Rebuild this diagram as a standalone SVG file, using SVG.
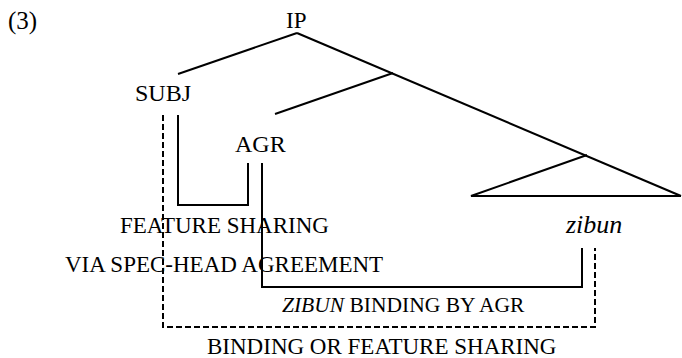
<svg xmlns="http://www.w3.org/2000/svg" width="682" height="358" viewBox="0 0 682 358">
<style>
text{font-family:"Liberation Serif","Times New Roman",serif;fill:#000}
.t{font-size:23px}
.s{font-size:21.5px}
.i{font-style:italic}
.ln{stroke:#000;stroke-width:2;fill:none}
.ds{stroke:#000;stroke-width:2;fill:none;stroke-dasharray:6 3}
</style>
<rect width="682" height="358" fill="#fff"/>
<text class="t" x="8" y="29" style="font-size:25px">(3)</text>
<g id="tree">
<g id="ip"><text class="t" x="286" y="28">IP</text></g>
<g id="subj"><text class="t" x="135" y="101" style="font-size:24px">SUBJ</text></g>
<g id="agr"><text class="t" x="235" y="152" style="font-size:24px">AGR</text></g>
<g id="zibun"><text class="i" x="566" y="233" style="font-size:26px">zibun</text></g>
<g id="branches">
<path class="ln" d="M297,33 L178,74"/>
<path class="ln" d="M297,33 L681,196"/>
<path class="ln" d="M393,73 L275,114"/>
<path class="ln" d="M587,155 L471,196 H681"/>
</g>
</g>
<g id="connectors">
<path class="ln" d="M178,115 V205 H248 V163"/>
<path class="ln" d="M262,163 V287 H582 V248"/>
<path class="ds" d="M163,115 V327 H595 V248"/>
</g>
<g id="labels">
<text class="t" x="120" y="233">FEATURE SHARING</text>
<text class="t" x="65" y="272">VIA SPEC-HEAD AGREEMENT</text>
<text class="s" x="282" y="312"><tspan class="i">ZIBUN</tspan> BINDING BY AGR</text>
<text class="t" x="207" y="354">BINDING OR FEATURE SHARING</text>
</g>
</svg>
